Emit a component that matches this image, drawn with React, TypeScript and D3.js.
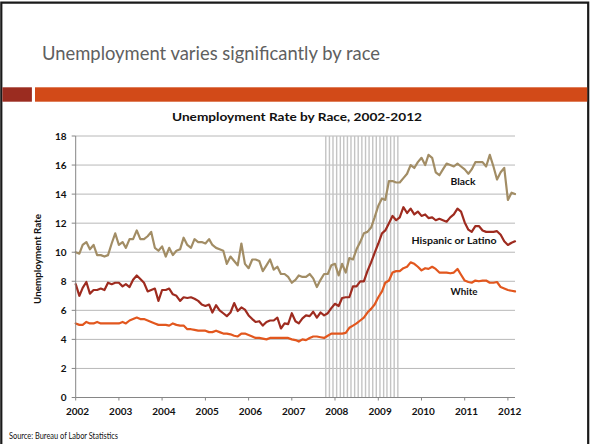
import React from "react";
import * as d3 from "d3";

// ---- Data (BLS monthly unemployment rate, Jan 2002 – Mar 2012) ----
const startMonth = new Date(2002, 0, 1);
const endMonth = new Date(2012, 2, 1);

const black: number[] = [
  // 2002
  10.0, 9.9, 10.5, 10.7, 10.2, 10.5, 9.8, 9.8, 9.7, 9.8, 10.6, 11.3,
  // 2003
  10.5, 10.7, 10.3, 10.9, 10.9, 11.5, 10.9, 10.9, 11.1, 11.4, 10.3, 10.1,
  // 2004
  10.4, 9.7, 10.3, 9.8, 10.1, 10.2, 11.0, 10.5, 10.3, 10.9, 10.7, 10.7,
  // 2005
  10.6, 10.9, 10.5, 10.3, 10.2, 10.1, 9.2, 9.7, 9.4, 9.1, 10.6, 9.2,
  // 2006
  8.9, 9.5, 9.5, 9.4, 8.7, 9.1, 9.5, 8.8, 9.0, 8.5, 8.5, 8.3,
  // 2007
  7.9, 8.1, 8.4, 8.3, 8.3, 8.5, 8.2, 7.6, 8.1, 8.5, 8.5, 9.1,
  // 2008
  9.2, 8.4, 9.2, 8.6, 9.6, 9.5, 10.2, 10.7, 11.3, 11.4, 11.7, 12.4,
  // 2009
  13.2, 13.7, 13.6, 14.9, 14.9, 14.8, 14.8, 15.1, 15.4, 16.0, 15.8, 16.2,
  // 2010
  16.5, 16.0, 16.7, 16.5, 15.5, 15.3, 15.7, 16.1, 16.0, 15.9, 16.1, 15.9,
  // 2011
  15.7, 15.4, 15.7, 16.2, 16.2, 16.2, 15.9, 16.7, 15.9, 15.0, 15.5, 15.8,
  // 2012
  13.6, 14.1, 14.0,
];

const hispanic: number[] = [
  // 2002
  7.8, 7.0, 7.55, 7.95, 7.15, 7.4, 7.4, 7.5, 7.4, 7.9, 7.8, 7.9,
  // 2003
  7.9, 7.65, 7.8, 7.6, 8.1, 8.4, 8.15, 7.9, 7.3, 7.4, 7.5, 6.65,
  // 2004
  7.4, 7.4, 7.5, 7.1, 7.0, 6.65, 6.9, 6.85, 6.9, 6.8, 6.65, 6.4,
  // 2005
  6.3, 6.4, 5.85, 6.35, 6.0, 5.8, 5.6, 5.85, 6.5, 5.95, 6.2, 6.05,
  // 2006
  5.65, 5.4, 5.2, 5.25, 4.95, 5.2, 5.3, 5.3, 5.5, 4.75, 5.1, 5.05,
  // 2007
  5.8, 5.25, 5.1, 5.45, 5.65, 5.6, 5.9, 5.5, 5.85, 5.65, 5.8, 6.15,
  // 2008
  6.45, 6.3, 6.85, 6.9, 6.9, 7.65, 7.65, 8.0, 8.0, 8.7, 9.3, 9.95,
  // 2009
  10.6, 11.3, 11.5, 12.0, 12.5, 12.2, 12.4, 13.1, 12.7, 13.0, 12.6, 12.8,
  // 2010
  12.5, 12.6, 12.35, 12.4, 12.2, 12.3, 12.2, 12.1, 12.4, 12.6, 13.0, 12.8,
  // 2011
  12.05, 11.55, 11.4, 11.8, 11.8, 11.5, 11.4, 11.4, 11.4, 11.45, 11.2, 10.75,
  // 2012
  10.5, 10.65, 10.75,
];

const white: number[] = [
  // 2002
  5.1, 5.0, 5.0, 5.2, 5.1, 5.1, 5.2, 5.1, 5.1, 5.1, 5.1, 5.1,
  // 2003
  5.1, 5.2, 5.1, 5.3, 5.4, 5.5, 5.4, 5.4, 5.3, 5.2, 5.1, 5.0,
  // 2004
  5.0, 5.0, 4.95, 5.1, 5.0, 4.95, 4.95, 4.7, 4.7, 4.65, 4.6, 4.6,
  // 2005
  4.6, 4.5, 4.5, 4.6, 4.5, 4.4, 4.4, 4.35, 4.25, 4.2, 4.4, 4.4,
  // 2006
  4.3, 4.2, 4.1, 4.1, 4.05, 4.0, 4.1, 4.1, 4.1, 4.1, 4.1, 4.1,
  // 2007
  4.0, 3.95, 3.85, 4.0, 3.95, 4.1, 4.2, 4.2, 4.15, 4.1, 4.25, 4.4,
  // 2008
  4.4, 4.4, 4.4, 4.45, 4.8, 4.95, 5.1, 5.3, 5.5, 5.85, 6.1, 6.4,
  // 2009
  6.9, 7.3, 7.9, 8.05, 8.6, 8.7, 8.7, 8.9, 9.0, 9.3, 9.2, 9.0,
  // 2010
  8.75, 8.9, 8.85, 9.0, 8.85, 8.6, 8.6, 8.6, 8.55, 8.6, 8.85, 8.45,
  // 2011
  8.05, 7.95, 7.9, 8.05, 8.0, 8.05, 8.05, 7.9, 7.9, 7.95, 7.6, 7.5,
  // 2012
  7.4, 7.35, 7.3,
];

const yTicks: number[] = [0, 2, 4, 6, 8, 10, 12, 14, 16, 18];
const yearTicks: number[] = [2002, 2003, 2004, 2005, 2006, 2007, 2008, 2009, 2010, 2011, 2012];
// Recession months (Oct 2007 – Jun 2009), drawn as monthly vertical bars
const recessionFirst = new Date(2007, 9, 15);
const recessionLast = new Date(2009, 5, 15);

const seriesNames = ["Black", "Hispanic or Latino", "White"];

export default function App() {
  const W = 591;
  const H = 444;
  const left = 75.7;
  const right = 515;
  const top = 136;
  const bottom = 397.5;

  const months = d3.timeMonth.range(startMonth, d3.timeMonth.offset(endMonth, 1));
  const x = d3.scaleTime().domain([startMonth, endMonth]).range([left, right]);
  const y = d3.scaleLinear().domain([0, 18]).range([bottom, top]);

  const recession = d3.timeMonth
    .range(new Date(2007, 9, 1), new Date(2009, 6, 1))
    .map((d) => new Date(d.getFullYear(), d.getMonth(), 15));

  const line = d3
    .line<number>()
    .x((_, i) => x(months[i]))
    .y((v) => y(v));

  const series = [
    { name: seriesNames[0], data: black, color: "#A28D65", lx: 463, ly: 184.5, w: 25 },
    { name: seriesNames[1], data: hispanic, color: "#9E2B1F", lx: 454, ly: 243.5, w: 85 },
    { name: seriesNames[2], data: white, color: "#E2571E", lx: 464, ly: 294.5, w: 27 },
  ];

  const labelFont = "Lato, 'Open Sans', sans-serif";

  return (
    <svg
      width={W}
      height={H}
      viewBox={`0 0 ${W} ${H}`}
      style={{ position: "absolute", left: 0, top: 0, background: "#fff" }}
    >
      <rect x={0} y={0} width={W} height={H} fill="#fff" />
      {/* slide frame */}
      <path d={`M1.3,${H} V2.6 H588.2 V${H}`} fill="none" stroke="#1a1a1a" strokeWidth={2.2} />

      {/* slide title */}
      <text
        x={42}
        y={60}
        fontFamily={labelFont}
        fontSize={20}
        fill="#606060"
        textLength={338}
        lengthAdjust="spacingAndGlyphs"
      >
        Unemployment varies significantly by race
      </text>

      {/* header bars */}
      <rect x={2.4} y={87.3} width={29.5} height={14.4} fill="#9B2C20" />
      <rect x={35} y={87.3} width={552.2} height={14.4} fill="#D24A18" />

      {/* chart title */}
      <text
        x={297}
        y={120.5}
        textAnchor="middle"
        fontFamily={labelFont}
        fontWeight="bold"
        fontSize={11.5}
        fill="#111"
        textLength={250}
        lengthAdjust="spacingAndGlyphs"
      >
        Unemployment Rate by Race, 2002-2012
      </text>

      {/* gridlines */}
      {yTicks.filter((t) => t > 0).map((t) => (
        <line key={`g${t}`} x1={left} x2={right} y1={y(t)} y2={y(t)} stroke="#b8b8b8" strokeWidth={1} />
      ))}

      {/* recession bars */}
      {recession.map((d, i) => (
        <line
          key={`r${i}`}
          x1={x(d)}
          x2={x(d)}
          y1={top}
          y2={bottom}
          stroke="#c4c4c4"
          strokeWidth={1.4}
        />
      ))}

      {/* series */}
      {series.map((s) => (
        <path
          key={s.name}
          d={line(s.data) || ""}
          fill="none"
          stroke={s.color}
          strokeWidth={2.2}
          strokeLinejoin="round"
          strokeLinecap="round"
        />
      ))}

      {/* axes */}
      <line x1={left} x2={left} y1={top} y2={bottom} stroke="#868686" strokeWidth={1} />
      <line x1={left} x2={right} y1={bottom} y2={bottom} stroke="#868686" strokeWidth={1} />
      {yTicks.map((t) => (
        <g key={`yt${t}`}>
          <line x1={left - 4} x2={left} y1={y(t)} y2={y(t)} stroke="#868686" strokeWidth={1} />
          <text
            x={66.5}
            y={y(t) + 3.6}
            textAnchor="end"
            fontFamily={labelFont}
            fontWeight="bold"
            fontSize={10}
            fill="#111"
          >
            {t}
          </text>
        </g>
      ))}
      {yearTicks.map((yr) => {
        const px = x(new Date(yr, 0, 1));
        return (
          <g key={`xt${yr}`}>
            <line x1={px} x2={px} y1={bottom} y2={bottom + 3} stroke="#868686" strokeWidth={1} />
            <text
              x={px + 1.8}
              y={415.3}
              textAnchor="middle"
              fontFamily={labelFont}
              fontWeight="bold"
              fontSize={10}
              fill="#111"
            >
              {yr}
            </text>
          </g>
        );
      })}

      {/* y-axis title */}
      <text
        transform="translate(41,259) rotate(-90)"
        textAnchor="middle"
        fontFamily={labelFont}
        fontWeight="bold"
        fontSize={9}
        fill="#111"
        textLength={90}
        lengthAdjust="spacingAndGlyphs"
      >
        Unemployment Rate
      </text>

      {/* series labels */}
      {series.map((s) => (
        <text
          key={`l${s.name}`}
          x={s.lx}
          y={s.ly}
          textAnchor="middle"
          fontFamily={labelFont}
          fontWeight="bold"
          fontSize={10}
          fill="#111"
          textLength={s.w}
          lengthAdjust="spacingAndGlyphs"
        >
          {s.name}
        </text>
      ))}

      {/* source */}
      <text
        x={9}
        y={439}
        fontFamily={labelFont}
        fontSize={8.5}
        fill="#111"
        textLength={109}
        lengthAdjust="spacingAndGlyphs"
      >
        Source: Bureau of Labor Statistics
      </text>
    </svg>
  );
}
